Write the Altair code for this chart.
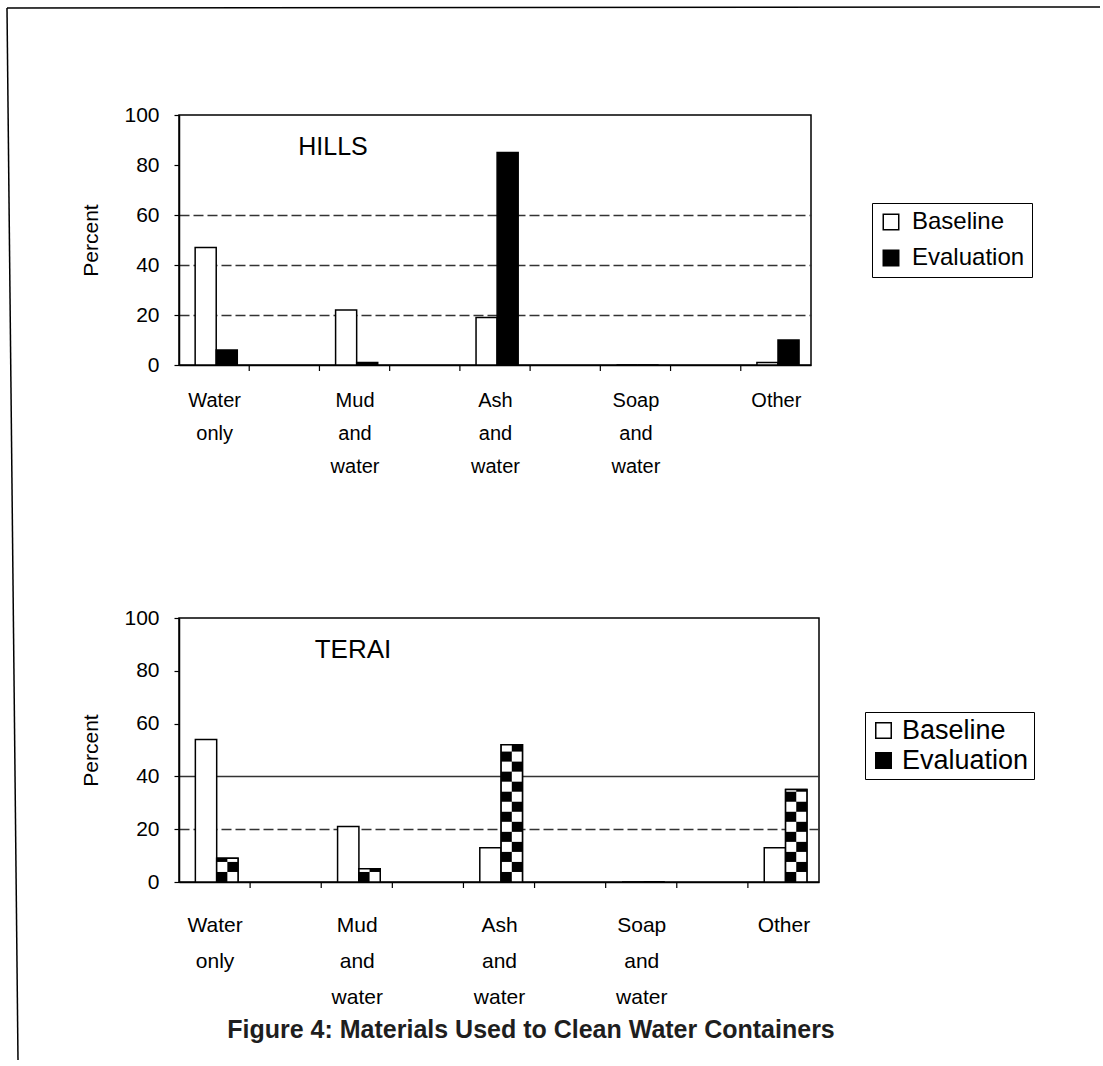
import altair as alt
import pandas as pd

# ---------------- data ----------------
categories = ["Water only", "Mud and water", "Ash and water", "Soap and water", "Other"]
label_lines = [["Water", "only"], ["Mud", "and", "water"], ["Ash", "and", "water"],
               ["Soap", "and", "water"], ["Other"]]
series = ["Baseline", "Evaluation"]
hills_baseline = [47, 22, 19, 0, 1]
hills_evaluation = [6, 1, 85, 0, 10]
terai_baseline = [54, 21, 13, 0, 13]
terai_evaluation = [9, 5, 52, 0, 35]
y_ticks = [0, 20, 40, 60, 80, 100]
panel_names = ["HILLS", "TERAI"]
figure_title = ["Figure 4: Materials Used to Clean Water Containers"]

FONT = "Liberation Sans"
N_SLOTS = 9  # Excel-style category axis: labelled slots with blank slots between


def bar_table(base, evalu):
    rows = []
    for i, cat in enumerate(categories):
        c = 2 * i + 0.5
        rows.append({"category": cat, "series": "Baseline", "value": base[i],
                     "x0": c - 0.27, "x1": c + 0.03})
        rows.append({"category": cat, "series": "Evaluation", "value": evalu[i],
                     "x0": c + 0.03, "x1": c + 0.33})
    return pd.DataFrame(rows)


def checker_table(evalu, step=3.8):
    rows = []
    for i, v in enumerate(evalu):
        c = 2 * i + 0.5
        k = 0
        while k * step < v:
            y0 = k * step
            y1 = min(v, (k + 1) * step)
            if k % 2 == 0:
                xa, xb = c + 0.18, c + 0.33
            else:
                xa, xb = c + 0.03, c + 0.18
            rows.append({"x0": xa, "x1": xb, "y0": y0, "y1": y1})
            k += 1
    return pd.DataFrame(rows)


label_js = "[" + ",".join(
    "[" + ",".join("'" + w + "'" for w in lines) + "]" for lines in label_lines) + "]"
label_expr = label_js + "[floor(datum.value / 2)]"
label_values = [2 * i + 0.5 for i in range(len(categories))]
tick_df = pd.DataFrame({"b": list(range(1, N_SLOTS))})


def x_enc(font, pad, lh):
    return alt.X(
        "x0:Q",
        title=None,
        scale=alt.Scale(domain=[0, N_SLOTS], nice=False, zero=False),
        axis=alt.Axis(values=label_values, labelExpr=label_expr, ticks=False,
                      labelFlush=False, labelOverlap=False,
                      labelBound=False, labelFontSize=font, labelLineHeight=lh,
                      labelPadding=pad, labelBaseline="top", grid=False,
                      labelFont=FONT, labelColor="black"),
    )


def y_enc(grid_test, dash):
    return alt.Y(
        "value:Q",
        title="Percent",
        scale=alt.Scale(domain=[0, 100], nice=False),
        axis=alt.Axis(values=y_ticks, labelFontSize=21, tickSize=5, labelPadding=15,
                      titleFontSize=21, titlePadding=22, titleFontWeight="normal",
                      grid=True, gridColor="#333333", gridWidth=1.3,
                      gridOpacity={"condition": {"test": grid_test, "value": 1}, "value": 0},
                      gridDash=dash, labelFont=FONT, titleFont=FONT,
                      labelColor="black", titleColor="black"),
    )


def legend(lx, ly, font, rowpad, offset, pad):
    return alt.Legend(orient="none", legendX=lx, legendY=ly, title=None, direction="vertical",
                      strokeColor="black", fillColor="white", padding=pad,
                      symbolType="square", symbolSize=240, symbolStrokeColor="black",
                      symbolStrokeWidth=1.5, labelFontSize=font, labelFont=FONT,
                      labelColor="black", rowPadding=rowpad, labelOffset=offset)


def tick_layer(h):
    return alt.Chart(tick_df).mark_rule(color="black", strokeWidth=1.2).encode(
        x="b:Q", y=alt.value(h), y2=alt.value(h + 6))


# ---------------- HILLS ----------------
W1, H1 = 632, 250
hills_df = bar_table(hills_baseline, hills_evaluation)
hills_bars = alt.Chart(hills_df).mark_rect(stroke="black", strokeWidth=1.5).encode(
    x=x_enc(20, 25, 33), x2="x1:Q",
    y=y_enc("datum.value == 20 || datum.value == 40 || datum.value == 60", [10, 4]),
    y2=alt.datum(0),
    fill=alt.Fill("series:N", scale=alt.Scale(domain=series, range=["white", "black"]),
                  legend=legend(693, 88, 24, 12, 9, 7)),
)
hills_label = alt.Chart(pd.DataFrame({"t": [panel_names[0]]})).mark_text(
    fontSize=25, font=FONT, color="black", align="center", baseline="middle"
).encode(text="t:N", x=alt.value(154), y=alt.value(32))

frame = pd.DataFrame({"k": [0]})
frame_top = alt.Chart(frame).mark_rule(color="black", strokeWidth=1.5).encode(
    x=alt.value(-172), x2=alt.value(921), y=alt.value(-107), y2=alt.value(-108))
frame_left = alt.Chart(frame).mark_rule(color="black", strokeWidth=1.5).encode(
    x=alt.value(-172), x2=alt.value(-161), y=alt.value(-107), y2=alt.value(945))

hills = alt.layer(frame_top, frame_left, hills_bars, tick_layer(H1), hills_label).properties(
    width=W1, height=H1)

# ---------------- TERAI ----------------
W2, H2 = 640, 264
terai_df = bar_table(terai_baseline, terai_evaluation)
terai_eval_df = terai_df[terai_df["series"] == "Evaluation"]
cells_df = checker_table(terai_evaluation)

terai_bars = alt.Chart(terai_df).mark_rect(stroke="black", strokeWidth=1.5).encode(
    x=x_enc(21, 32, 36), x2="x1:Q",
    y=y_enc("datum.value == 20 || datum.value == 40",
            {"condition": {"test": "datum.value == 40", "value": [1, 0]}, "value": [10, 4]}),
    y2=alt.datum(0),
    fill=alt.Fill("series:N", scale=alt.Scale(domain=series, range=["white", "black"]),
                  legend=legend(686, 94, 27, 2, 5, 5)),
)
terai_cells = alt.Chart(cells_df).mark_rect(fill="white").encode(
    x="x0:Q", x2="x1:Q", y="y0:Q", y2="y1:Q")
terai_outline = alt.Chart(terai_eval_df).mark_rect(
    fillOpacity=0, stroke="black", strokeWidth=1.5).encode(
    x="x0:Q", x2="x1:Q", y="value:Q", y2=alt.datum(0))
terai_label = alt.Chart(pd.DataFrame({"t": [panel_names[1]]})).mark_text(
    fontSize=26, font=FONT, color="black", align="center", baseline="middle"
).encode(text="t:N", x=alt.value(174), y=alt.value(32))
fig_title = alt.Chart(pd.DataFrame({"t": figure_title})).mark_text(
    fontSize=25, font=FONT, fontWeight="bold", color="#1e1e1e", align="center",
    baseline="middle").encode(text="t:N", x=alt.value(352), y=alt.value(412))

terai = alt.layer(terai_bars, terai_cells, terai_outline, tick_layer(H2), terai_label,
                  fig_title).properties(width=W2, height=H2)

chart = (
    alt.vconcat(hills, terai, spacing=253, bounds="flush")
    .resolve_scale(fill="independent")
    .resolve_legend(fill="independent")
    .properties(padding={"left": 5, "top": 5, "right": 0, "bottom": 0}, background="white")
    .configure_view(stroke="black", strokeWidth=1.5)
    .configure_axis(domainColor="black", domainWidth=1.5, tickColor="black", tickWidth=1.2)
)

chart.save("out.html", embed_options={"renderer": "svg", "actions": False})
